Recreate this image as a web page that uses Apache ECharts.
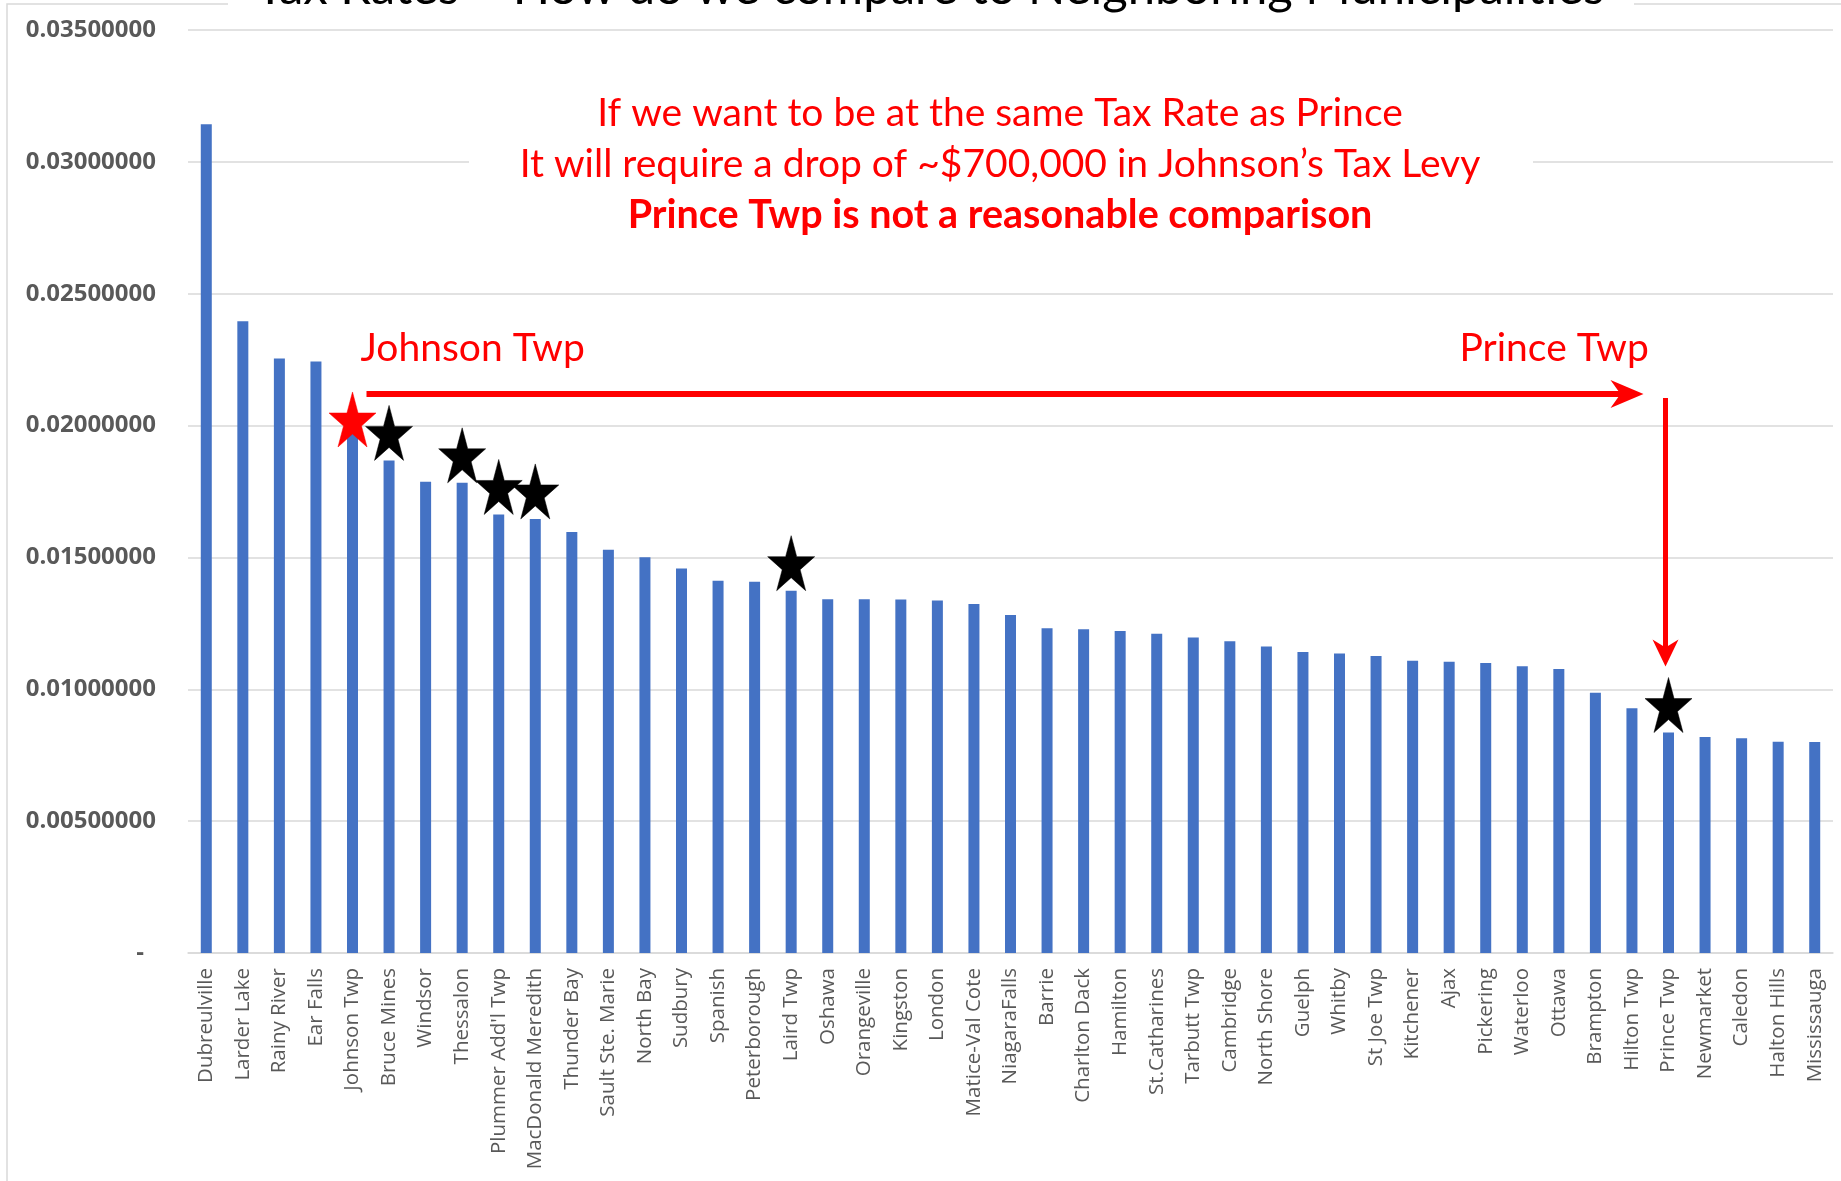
<!DOCTYPE html>
<html>
<head>
<meta charset="utf-8">
<title>Tax Rates – How do we compare to Neighboring Municipalities</title>
<script src="https://cdn.jsdelivr.net/npm/echarts@6/dist/echarts.min.js"></script>
<style>
  html, body { margin: 0; padding: 0; background: #ffffff; }
  #chart { width: 1841px; height: 1181px; }
</style>
</head>
<body>
<div id="chart"></div>
<script>
// Municipalities, ordered from highest to lowest tax rate
const categories = [
  'Dubreulville', 'Larder Lake', 'Rainy River', 'Ear Falls', 'Johnson Twp',
  'Bruce Mines', 'Windsor', 'Thessalon', "Plummer Add'l Twp", 'MacDonald Meredith',
  'Thunder Bay', 'Sault Ste. Marie', 'North Bay', 'Sudbury', 'Spanish',
  'Peterborough', 'Laird Twp', 'Oshawa', 'Orangeville', 'Kingston',
  'London', 'Matice-Val Cote', 'NiagaraFalls', 'Barrie', 'Charlton Dack',
  'Hamilton', 'St.Catharines', 'Tarbutt Twp', 'Cambridge', 'North Shore',
  'Guelph', 'Whitby', 'St Joe Twp', 'Kitchener', 'Ajax',
  'Pickering', 'Waterloo', 'Ottawa', 'Brampton', 'Hilton Twp',
  'Prince Twp', 'Newmarket', 'Caledon', 'Halton Hills', 'Mississauga'
];

// Residential tax rate for each municipality
const taxRates = [
  0.03143, 0.02396, 0.02254, 0.02243, 0.01970,
  0.01868, 0.01787, 0.01783, 0.01663, 0.01646,
  0.01596, 0.01529, 0.01501, 0.01458, 0.01412,
  0.01408, 0.01374, 0.01341, 0.01341, 0.01340,
  0.01337, 0.01323, 0.01282, 0.01231, 0.01228,
  0.01221, 0.01211, 0.01196, 0.01182, 0.01162,
  0.01141, 0.01136, 0.01126, 0.01108, 0.01104,
  0.01100, 0.01087, 0.01077, 0.00987, 0.00928,
  0.00836, 0.00819, 0.00814, 0.00801, 0.00800
];

// Neighbouring townships marked with a star; the home township gets a red one
const starredTowns = ['Johnson Twp', 'Bruce Mines', 'Thessalon', "Plummer Add'l Twp", 'MacDonald Meredith', 'Laird Twp', 'Prince Twp'];
const homeTown = 'Johnson Twp';
const compareTown = 'Prince Twp';

// Value axis range
const yMin = 0;
const yMax = 0.035;
const yStep = 0.005;

// Text blocks
const chartTitle = 'Tax Rates – How do we compare to Neighboring Municipalities';
const noteLines = [
  'If we want to be at the same Tax Rate as Prince',
  'It will require a drop of ~$700,000 in Johnson’s Tax Levy',
  'Prince Twp is not a reasonable comparison'
];

const RED = '#FF0000';
const STAR = 'path://M50 0 L61.23 34.55 L97.55 34.55 L68.16 55.9 L79.39 90.45 L50 69.1 L20.61 90.45 L31.84 55.9 L2.45 34.55 L38.77 34.55 Z';

const starData = starredTowns.map(name => {
  const v = taxRates[categories.indexOf(name)];
  if (name === homeTown) {
    return { value: [name, v], symbolOffset: [0, -14], itemStyle: { color: RED, borderColor: RED } };
  }
  return { value: [name, v] };
});

const chart = echarts.init(document.getElementById('chart'), null, { renderer: 'canvas' });

chart.setOption({
  animation: false,
  backgroundColor: '#ffffff',
  grid: { left: 188, right: 8, top: 30, bottom: 228 },
  xAxis: {
    type: 'category',
    data: categories,
    axisTick: { show: false },
    axisLine: { lineStyle: { color: '#d9d9d9', width: 1.5 } },
    axisLabel: {
      interval: 0,
      rotate: 90,
      margin: 15,
      color: '#595959',
      fontFamily: 'Open Sans',
      fontSize: 20.5
    }
  },
  yAxis: {
    type: 'value',
    min: yMin,
    max: yMax,
    interval: yStep,
    axisLine: { show: false },
    axisTick: { show: false },
    splitLine: { lineStyle: { color: '#d9d9d9', width: 1.5 } },
    axisLabel: {
      margin: 32,
      color: '#595959',
      fontFamily: 'Open Sans',
      fontWeight: 'bold',
      fontSize: 24,
      formatter: v => (Math.abs(v) < 1e-12 ? '{dash|-}' : v.toFixed(8)),
      rich: {
        dash: { padding: [0, 12, 0, 0], color: '#595959', fontFamily: 'Open Sans', fontWeight: 'bold', fontSize: 24 }
      }
    }
  },
  series: [
    {
      type: 'bar',
      data: taxRates,
      barWidth: 11,
      itemStyle: { color: '#4472C4' }
    },
    {
      type: 'scatter',
      data: starData,
      symbol: STAR,
      symbolSize: [47, 55],
      symbolOffset: [0, '-50%'],
      itemStyle: { color: '#000000', borderColor: '#000000', borderWidth: 0.5, opacity: 1 },
      z: 5
    }
  ]
});

// Annotation layer anchored to the axes
const px = name => chart.convertToPixel({ xAxisIndex: 0 }, categories.indexOf(name));
const py = v => chart.convertToPixel({ yAxisIndex: 0 }, v);

const homeX = px(homeTown);
const compareX = px(compareTown);
const compareTop = py(taxRates[categories.indexOf(compareTown)]);
const arrowY = py(0.0212);
const hTipX = compareX - 25;
const vX = compareX - 3;
const vTipY = compareTop - 66;
const labelY = py(0.02293);
const noteX = 1000;

const annotations = [
  // chart border, with gaps left by the title and note boxes
  { type: 'rect', z: 1, shape: { x: 7, y: 4, width: 1900, height: 1300 }, style: { fill: 'none', stroke: '#d9d9d9', lineWidth: 1.5 } },
  { type: 'rect', z: 20, shape: { x: 228, y: -5, width: 1406, height: 16 }, style: { fill: '#ffffff' } },
  { type: 'text', z: 21, x: 930, y: -12, style: { text: chartTitle, fontFamily: 'Lato', fontSize: 49, fill: '#000000', textAlign: 'center', textVerticalAlign: 'middle' } },
  { type: 'rect', z: 20, shape: { x: 469, y: 80, width: 1064, height: 165 }, style: { fill: '#ffffff' } },
  { type: 'text', z: 21, x: noteX, y: 113, style: { text: noteLines[0], fontFamily: 'Lato', fontSize: 39, fill: RED, textAlign: 'center', textVerticalAlign: 'middle' } },
  { type: 'text', z: 21, x: noteX, y: 164, style: { text: noteLines[1], fontFamily: 'Lato', fontSize: 39, fill: RED, textAlign: 'center', textVerticalAlign: 'middle' } },
  { type: 'text', z: 21, x: noteX, y: 215, style: { text: noteLines[2], fontFamily: 'Lato', fontWeight: 'bold', fontSize: 39.5, fill: RED, textAlign: 'center', textVerticalAlign: 'middle' } },
  // town labels
  { type: 'text', z: 21, x: homeX + 8, y: labelY, style: { text: homeTown, fontFamily: 'Lato', fontSize: 39, fill: RED, textAlign: 'left', textVerticalAlign: 'middle' } },
  { type: 'text', z: 21, x: compareX - 209, y: labelY, style: { text: compareTown, fontFamily: 'Lato', fontSize: 39, fill: RED, textAlign: 'left', textVerticalAlign: 'middle' } },
  // horizontal arrow
  { type: 'line', z: 21, shape: { x1: homeX + 14, y1: arrowY, x2: hTipX - 20, y2: arrowY }, style: { stroke: RED, lineWidth: 6 } },
  { type: 'polygon', z: 21, shape: { points: [[hTipX, arrowY], [hTipX - 33, arrowY - 14], [hTipX - 23, arrowY], [hTipX - 33, arrowY + 14]] }, style: { fill: RED } },
  // vertical arrow
  { type: 'line', z: 21, shape: { x1: vX, y1: arrowY + 4, x2: vX, y2: vTipY - 16 }, style: { stroke: RED, lineWidth: 5 } },
  { type: 'polygon', z: 21, shape: { points: [[vX, vTipY], [vX - 13, vTipY - 27], [vX, vTipY - 19], [vX + 13, vTipY - 27]] }, style: { fill: RED } }
];

chart.setOption({ graphic: { elements: annotations } });
</script>
</body>
</html>
